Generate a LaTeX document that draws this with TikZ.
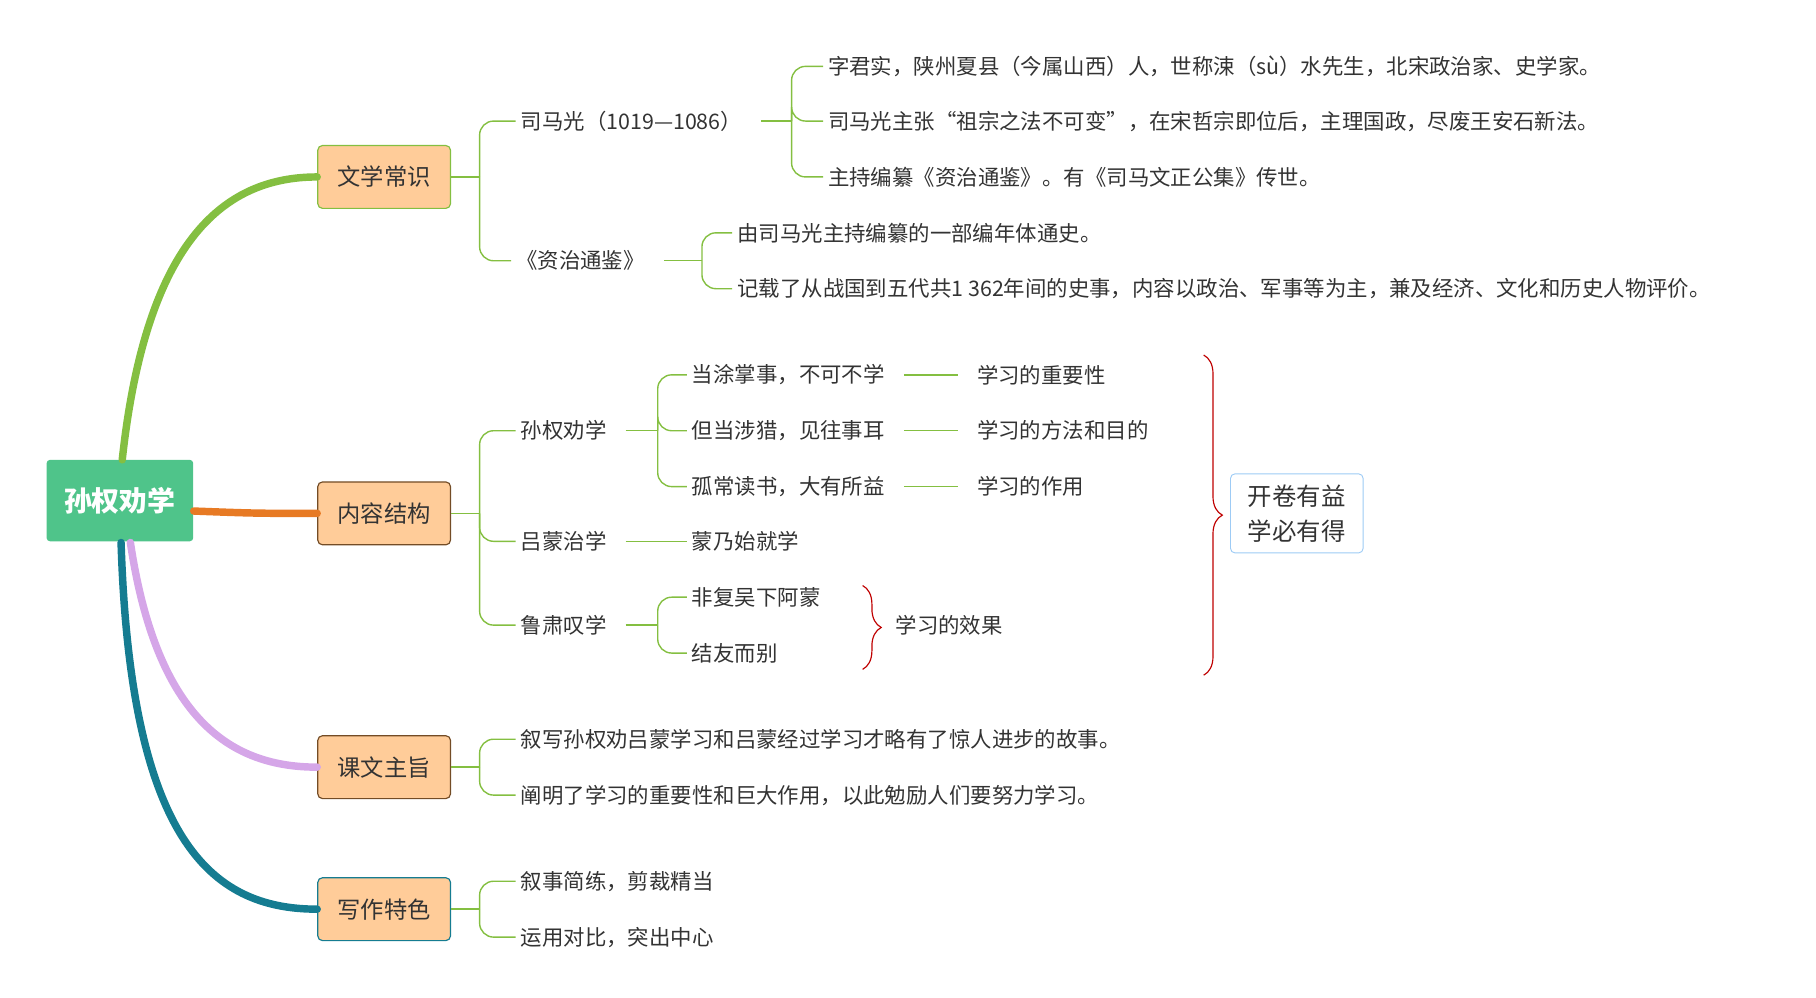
\documentclass[tikz,border=0pt]{standalone}
\usepackage{fontspec}
\setmainfont{Noto Sans CJK SC}
\usetikzlibrary{decorations.pathreplacing}
\definecolor{rootgreen}{HTML}{4FC48A}
\definecolor{peach}{HTML}{FFCC99}
\definecolor{lgreen}{HTML}{84BF41}
\definecolor{borange}{HTML}{E77A24}
\definecolor{bpurple}{HTML}{D5A6E8}
\definecolor{bteal}{HTML}{157C91}
\definecolor{txt}{HTML}{333333}
\definecolor{bblue}{HTML}{9DCBF5}
\begin{document}
\begin{tikzpicture}[x=0.5pt,y=-0.5pt,
	root node/.style={fill=rootgreen,text=white,font=\fontsize{12}{14}\selectfont\bfseries,
		minimum width=63pt,minimum height=35pt,rounded corners=1.5pt},
	main node/.style={fill=peach,text=txt,font=\fontsize{10}{12}\selectfont,
		minimum width=57pt,minimum height=27pt,rounded corners=2pt,draw=#1,line width=0.5pt},
	leaf/.style={anchor=west,text=txt,font=\fontsize{9.2}{11}\selectfont,inner sep=2pt},
	conn/.style={draw=lgreen,line width=0.6pt,rounded corners=6pt},
	branch/.style={line width=3.2pt,line cap=round},
	rbrace/.style={draw=red!75!black,line width=0.5pt,decorate,decoration={brace,amplitude=#1}}]
	\useasboundingbox (0,0) rectangle (1560,857);

	% root and main topics
	\node[root node] (root) at (103,430) {孙权劝学};
	\node[main node=lgreen] (wx) at (330,152) {文学常识};
	\node[main node=brown!60!black] (nr) at (330,441) {内容结构};
	\node[main node=brown!60!black] (kw) at (330,659) {课文主旨};
	\node[main node=bteal] (xz) at (330,781) {写作特色};

	\draw[branch,lgreen] (105,395) .. controls (125,210) and (190,152) .. (wx.west);
	\draw[branch,borange] (root.east|-0,439) .. controls (220,441) .. (nr.west);
	\draw[branch,bpurple] (112,466) .. controls (135,620) and (200,659) .. (kw.west);
	\draw[branch,bteal] (104,466) .. controls (112,720) and (180,781) .. (xz.west);

	% 文学常识
	\node[leaf] (smg) at (443,104) {司马光（1019—1086）};
	\node[leaf] (zz) at (439,224) {《资治通鉴》};
	\node[leaf] (s1) at (707,57) {字君实，陕州夏县（今属山西）人，世称涑（sù）水先生，北宋政治家、史学家。};
	\node[leaf] (s2) at (707,104) {司马光主张“祖宗之法不可变”，在宋哲宗即位后，主理国政，尽废王安石新法。};
	\node[leaf] (s3) at (707,152) {主持编纂《资治通鉴》。有《司马文正公集》传世。};
	\node[leaf] (z1) at (629,200) {由司马光主持编纂的一部编年体通史。};
	\node[leaf] (z2) at (629,248) {记载了从战国到五代共1 362年间的史事，内容以政治、军事等为主，兼及经济、文化和历史人物评价。};

	% 内容结构
	\node[leaf] (sq) at (443,370) {孙权劝学};
	\node[leaf] (lm) at (443,465) {吕蒙治学};
	\node[leaf] (ls) at (443,537) {鲁肃叹学};
	\node[leaf] (q1) at (590,322) {当涂掌事，不可不学};
	\node[leaf] (q2) at (590,370) {但当涉猎，见往事耳};
	\node[leaf] (q3) at (590,418) {孤常读书，大有所益};
	\node[leaf] (m1) at (590,465) {蒙乃始就学};
	\node[leaf] (l1) at (590,513) {非复吴下阿蒙};
	\node[leaf] (l2) at (590,561) {结友而别};
	\node[leaf] (r1) at (835,322) {学习的重要性};
	\node[leaf] (r2) at (835,370) {学习的方法和目的};
	\node[leaf] (r3) at (835,418) {学习的作用};
	\node[leaf] (xg) at (765,537) {学习的效果};
	\node[draw=bblue,rounded corners=2pt,align=left,text=txt,font=\fontsize{10.5}{15}\selectfont,
		minimum width=57pt,minimum height=34pt,inner xsep=3pt] (kj) at (1114,441) {开卷有益\\学必有得};

	% 课文主旨 / 写作特色
	\node[leaf] (k1) at (443,635) {叙写孙权劝吕蒙学习和吕蒙经过学习才略有了惊人进步的故事。};
	\node[leaf] (k2) at (443,683) {阐明了学习的重要性和巨大作用，以此勉励人们要努力学习。};
	\node[leaf] (x1) at (443,757) {叙事简练，剪裁精当};
	\node[leaf] (x2) at (443,805) {运用对比，突出中心};

	% connectors
	\foreach \p/\g/\j/\cs in {wx/0/412/{smg,zz}, nr/0/412/{sq,lm,ls}, kw/0/412/{k1,k2}, xz/0/412/{x1,x2},
		smg/6/680/{s1,s2,s3}, zz/6/603/{z1,z2}, sq/6/565/{q1,q2,q3}, ls/6/565/{l1,l2}} {
		\draw[conn] ([xshift=\g]\p.east) -- (\j,0|-\p.east);
		\foreach \c in \cs {\draw[conn] (\j,0|-\p.east) |- (\c.west);}
	}
	\draw[conn] ([xshift=6]lm.east) -- (m1.west);
	\draw[conn] (q1.east) ++(12,0) -- ([xshift=-6]r1.west);
	\draw[conn] (q2.east) ++(12,0) -- ([xshift=-6]r2.west);
	\draw[conn] (q3.east) ++(12,0) -- ([xshift=-6]r3.west);

	% braces
	\draw[rbrace=8pt] (741,503) -- (741,575);
	\draw[rbrace=8pt] (1034,305) -- (1034,580);
\end{tikzpicture}
\end{document}
